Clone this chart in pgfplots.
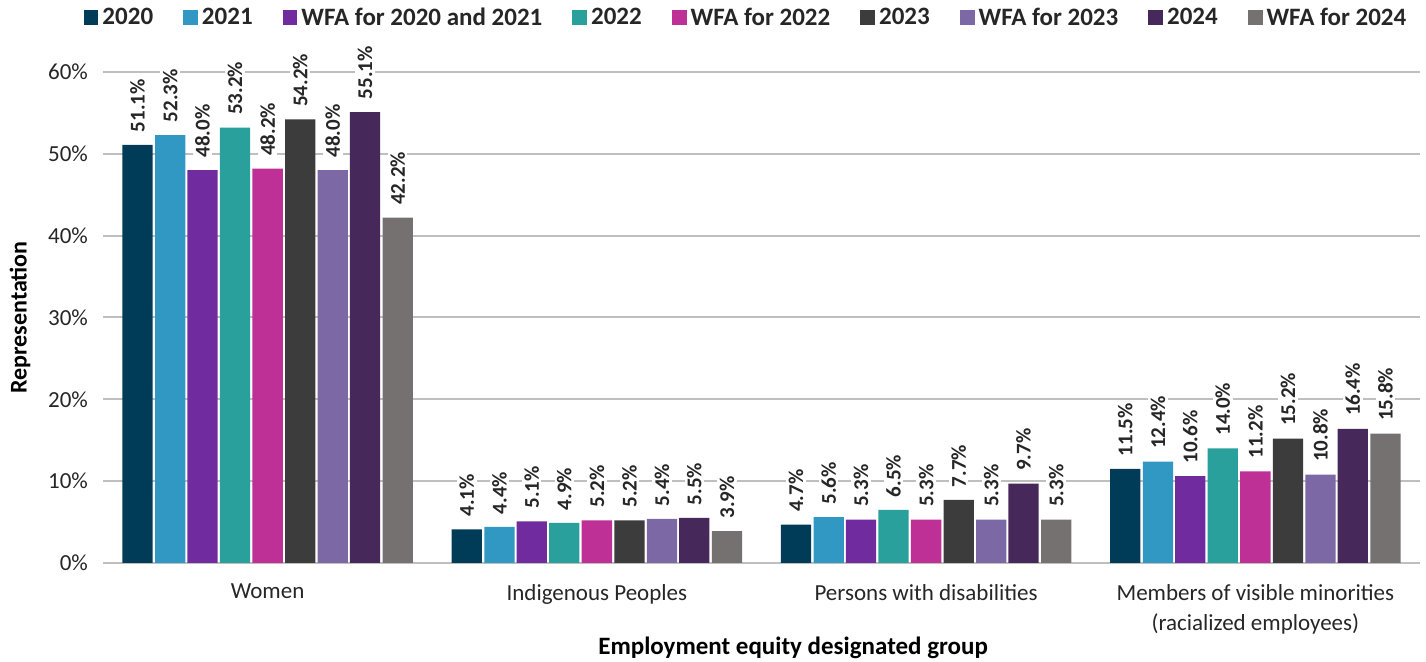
\documentclass[border=0pt]{standalone}
\usepackage{fontspec}
\setmainfont{Carlito}
\usepackage{pgfplots}
\pgfplotsset{compat=1.18}
\definecolor{cA}{RGB}{0,60,88}
\definecolor{cB}{RGB}{48,152,195}
\definecolor{cC}{RGB}{112,44,159}
\definecolor{cD}{RGB}{41,160,155}
\definecolor{cE}{RGB}{190,48,150}
\definecolor{cF}{RGB}{60,60,60}
\definecolor{cG}{RGB}{123,104,165}
\definecolor{cH}{RGB}{70,40,90}
\definecolor{cI}{RGB}{118,113,113}
\definecolor{gridc}{RGB}{191,191,191}
\definecolor{txt}{RGB}{38,38,38}
\begin{document}
\begin{tikzpicture}
\useasboundingbox (-51.5pt,-49.5pt) rectangle (661.5pt,281.5pt);
\begin{axis}[
  scale only axis, width=658.5pt, height=245.5pt,
  ybar, bar width=0.092,
  xmin=-0.5, xmax=3.5, ymin=0, ymax=60,
  xtick={0,1,2,3},
  xticklabels={Women, Indigenous Peoples, Persons with disabilities, {Members of visible minorities\\(racialized employees)}},
  xticklabel style={align=center, font=\fontsize{11.5}{15}\selectfont, text=txt, yshift=-7pt},
  ytick={0,10,20,30,40,50,60},
  yticklabel={\pgfmathprintnumber{\tick}\%},
  yticklabel style={font=\fontsize{11.5}{14}\selectfont, text=txt, xshift=-4pt},
  /pgf/number format/assume math mode=true,
  axis line style={draw=none}, major tick length=0pt,
  ymajorgrids, grid style={line width=1pt, color=gridc},
  xlabel={Employment equity designated group},
  xlabel style={font=\bfseries\fontsize{12.5}{15}\selectfont, text=black, at={(axis description cs:0.524,-0.173)}, anchor=center},
  ylabel={Representation},
  ylabel style={font=\bfseries\fontsize{12}{15}\selectfont, text=black, at={(axis description cs:-0.063,0.5)}, anchor=center},
  nodes near coords={\pgfmathprintnumber[fixed,fixed zerofill,precision=1]{\pgfplotspointmeta}\%},
  every node near coord/.append style={yshift=5pt, rotate=90, anchor=west, font=\bfseries\fontsize{10.5}{12}\selectfont, text=txt, fill=white, inner sep=1.2pt},
  legend columns=9,
  legend style={at={(axis description cs:0.489,1.11)}, anchor=center, draw=none, fill=none,
    font=\bfseries\fontsize{12.5}{15}\selectfont, text=txt,
    /tikz/every even column/.append style={column sep=13pt}},
  legend image code/.code={\fill[#1] (0pt,-3.6pt) rectangle (7.4pt,3.8pt);},
]
\addplot[fill=cA, draw=none, bar shift=-0.395] coordinates {(0,51.1) (1,4.1) (2,4.7) (3,11.5)};
\addlegendentry{2020}
\addplot[fill=cB, draw=none, bar shift=-0.296] coordinates {(0,52.3) (1,4.4) (2,5.6) (3,12.4)};
\addlegendentry{2021}
\addplot[fill=cC, draw=none, bar shift=-0.198] coordinates {(0,48.0) (1,5.1) (2,5.3) (3,10.6)};
\addlegendentry{WFA for 2020 and 2021}
\addplot[fill=cD, draw=none, bar shift=-0.099] coordinates {(0,53.2) (1,4.9) (2,6.5) (3,14.0)};
\addlegendentry{2022}
\addplot[fill=cE, draw=none, bar shift=0] coordinates {(0,48.2) (1,5.2) (2,5.3) (3,11.2)};
\addlegendentry{WFA for 2022}
\addplot[fill=cF, draw=none, bar shift=0.099] coordinates {(0,54.2) (1,5.2) (2,7.7) (3,15.2)};
\addlegendentry{2023}
\addplot[fill=cG, draw=none, bar shift=0.198] coordinates {(0,48.0) (1,5.4) (2,5.3) (3,10.8)};
\addlegendentry{WFA for 2023}
\addplot[fill=cH, draw=none, bar shift=0.296] coordinates {(0,55.1) (1,5.5) (2,9.7) (3,16.4)};
\addlegendentry{2024}
\addplot[fill=cI, draw=none, bar shift=0.395] coordinates {(0,42.2) (1,3.9) (2,5.3) (3,15.8)};
\addlegendentry{WFA for 2024}
\end{axis}
\end{tikzpicture}
\end{document}
